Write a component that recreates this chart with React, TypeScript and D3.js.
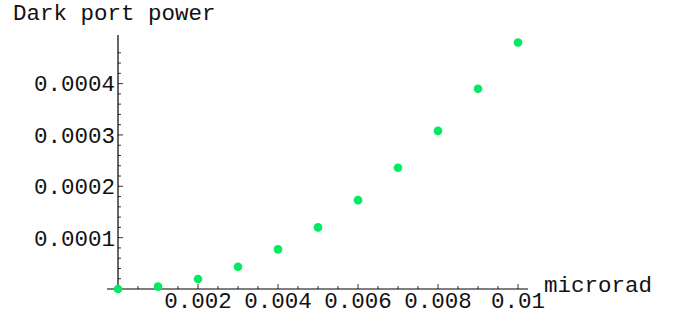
import React from 'react';
import * as d3 from 'd3';

// angle in microrad
const angles = [0, 0.001, 0.002, 0.003, 0.004, 0.005, 0.006, 0.007, 0.008, 0.009, 0.01];
// dark port power
const powers = [0, 0.0000046, 0.0000194, 0.0000434, 0.0000772, 0.00012, 0.000173, 0.000236, 0.000308, 0.00039, 0.00048];
const xTicks = [0.002, 0.004, 0.006, 0.008, 0.01];
const xTickLabels = ['0.002', '0.004', '0.006', '0.008', '0.01'];
const yTicks = [0.0001, 0.0002, 0.0003, 0.0004];
const yTickLabels = ['0.0001', '0.0002', '0.0003', '0.0004'];

const App = () => {
  const ref = React.useRef<SVGSVGElement>(null);

  React.useEffect(() => {
    const svg = d3.select(ref.current);
    svg.selectAll('*').remove();

    const font = '"Liberation Mono", "Courier New", monospace';
    const fs = '22.5px';
    const x = d3.scaleLinear().domain([0, 0.01]).range([118, 518]);
    const y = d3.scaleLinear().domain([0, 0.0004]).range([289, 83.6]);

    // x axis
    svg.append('line')
      .attr('x1', 107).attr('x2', 528)
      .attr('y1', y(0)).attr('y2', y(0))
      .attr('stroke', '#000').attr('stroke-width', 1.2);

    // y axis
    svg.append('line')
      .attr('x1', x(0)).attr('x2', x(0))
      .attr('y1', 35).attr('y2', 292)
      .attr('stroke', '#000').attr('stroke-width', 1.2);

    // x ticks (major + minor), pointing up
    const xMinor = d3.range(0.0005, 0.01001, 0.0005);
    svg.selectAll('.xt')
      .data(xMinor)
      .enter()
      .append('line')
      .attr('x1', d => x(d)).attr('x2', d => x(d))
      .attr('y1', y(0))
      .attr('y2', d => y(0) - (Math.abs(d / 0.002 - Math.round(d / 0.002)) < 1e-6 ? 5 : 3))
      .attr('stroke', '#000').attr('stroke-width', 0.8);

    svg.selectAll('.xl')
      .data(xTicks)
      .enter()
      .append('text')
      .attr('x', d => x(d))
      .attr('y', 308)
      .attr('text-anchor', 'middle')
      .style('font-family', font)
      .style('font-size', fs)
      .style('fill', '#111')
      .text((d, i) => xTickLabels[i]);

    // y ticks (major + minor), pointing right
    const yMinor = d3.range(0.00002, 0.00047, 0.00002);
    svg.selectAll('.yt')
      .data(yMinor)
      .enter()
      .append('line')
      .attr('y1', d => y(d)).attr('y2', d => y(d))
      .attr('x1', x(0))
      .attr('x2', d => x(0) + (Math.abs(d / 0.0001 - Math.round(d / 0.0001)) < 1e-6 ? 5 : 3))
      .attr('stroke', '#000').attr('stroke-width', 0.8);

    svg.selectAll('.yl')
      .data(yTicks)
      .enter()
      .append('text')
      .attr('x', 115)
      .attr('y', d => y(d))
      .attr('dy', '0.35em')
      .attr('text-anchor', 'end')
      .style('font-family', font)
      .style('font-size', fs)
      .style('fill', '#111')
      .text((d, i) => yTickLabels[i]);

    // points
    svg.selectAll('circle')
      .data(angles)
      .enter()
      .append('circle')
      .attr('cx', d => x(d))
      .attr('cy', (d, i) => y(powers[i]))
      .attr('r', 4.3)
      .attr('fill', '#00ea64');

    // axis labels
    svg.append('text')
      .attr('x', 544)
      .attr('y', 292)
      .style('font-family', font)
      .style('font-size', fs)
      .style('fill', '#111')
      .text('microrad');

    svg.append('text')
      .attr('x', 13)
      .attr('y', 20)
      .style('font-family', font)
      .style('font-size', fs)
      .style('fill', '#111')
      .text('Dark port power');
  }, []);

  return (
    <svg
      ref={ref}
      width={673}
      height={320}
      style={{ position: 'absolute', left: 0, top: 0, background: '#fff' }}
    />
  );
};

export default App;
